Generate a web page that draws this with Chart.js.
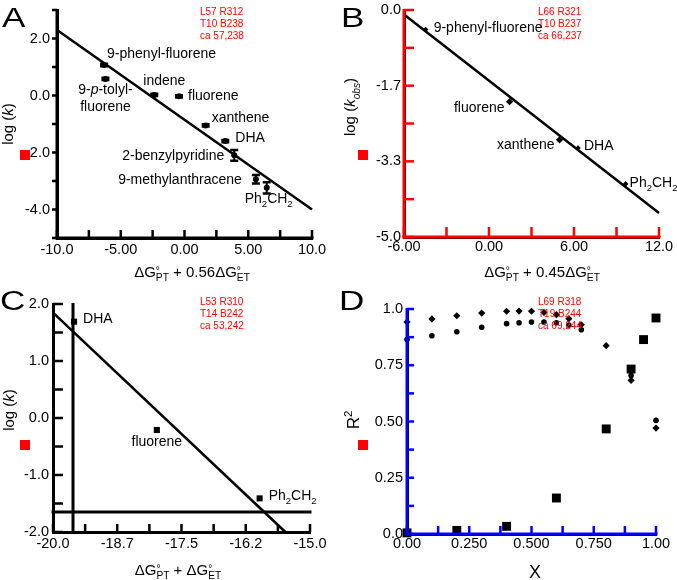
<!DOCTYPE html>
<html>
<head>
<meta charset="utf-8">
<script src="https://cdn.jsdelivr.net/npm/chart.js@4.4.0/dist/chart.umd.min.js"></script>
<style>
  body { margin: 0; background: #fff; }
  #wrap { position: relative; width: 677px; height: 580px; overflow: hidden; }
  canvas { position: absolute; }
</style>
</head>
<body>
<div id="wrap">
  <canvas id="chartA" width="338" height="290" style="left:0;top:0"></canvas>
  <canvas id="chartB" width="339" height="290" style="left:338px;top:0"></canvas>
  <canvas id="chartC" width="338" height="290" style="left:0;top:290px"></canvas>
  <canvas id="chartD" width="339" height="290" style="left:338px;top:290px"></canvas>
</div>
<script>
var FONT = "'Liberation Sans', Arial, sans-serif";

// ---- panel A data
var xA = [-6.31, -6.2, -2.37, -0.43, 1.66, 3.2, 3.9, 5.6, 6.45];
var yA = [1.07, 0.58, 0.02, -0.03, -1.05, -1.6, -2.1, -2.94, -3.24];
var errA = [0.04, 0.04, 0.04, 0.04, 0.04, 0.04, 0.19, 0.15, 0.2];
var namesA = ['9-phenyl-fluorene', '9-{/p}-tolyl-|fluorene', 'indene', 'fluorene', 'xanthene', 'DHA',
  '2-benzylpyridine', '9-methylanthracene', 'Ph{_2}CH{_2}'];
var fitXA = [-10, 10];
var fitYA = [2.3, -4.0];
var xTicksA = [-10, -7.5, -5, -2.5, 0, 2.5, 5, 7.5, 10];
var xLabelsA = ['-10.0', '', '-5.00', '', '0.00', '', '5.00', '', '10.0'];
var yTicksA = [-5, -4, -3, -2, -1, 0, 1, 2, 3];
var yLabelsA = ['', '-4.0', '', '-2.0', '', '0.0', '', '2.0', ''];

// ---- panel B data
var xB = [-4.47, 1.45, 4.98, 6.28, 9.64];
var yB = [-0.43, -2.02, -2.86, -3.04, -3.83];
var namesB = ['9-phenyl-fluorene', 'fluorene', 'xanthene', 'DHA', 'Ph{_2}CH{_2}'];
var fitXB = [-6, 12];
var fitYB = [-0.1, -4.47];
var xTicksB = [-6, -3, 0, 3, 6, 9, 12];
var xLabelsB = ['-6.00', '', '0.00', '', '6.00', '', '12.0'];
var yTicksB = [-5, -25 / 6, -10 / 3, -2.5, -5 / 3, -5 / 6, 0];
var yLabelsB = ['-5.0', '', '-3.3', '', '-1.7', '', '0.0'];

// ---- panel C data
var xC = [-19.59, -17.98, -15.98];
var yC = [1.69, -0.21, -1.41];
var namesC = ['DHA', 'fluorene', 'Ph{_2}CH{_2}'];
var fitXC = [-20, -15.48];
var fitYC = [1.85, -2.0];
var xTicksC = [-20, -19.375, -18.75, -18.125, -17.5, -16.875, -16.25, -15.625, -15];
var xLabelsC = ['-20.0', '', '-18.7', '', '-17.5', '', '-16.2', '', '-15.0'];
var yTicksC = [-2, -1.5, -1, -0.5, 0, 0.5, 1, 1.5, 2];
var yLabelsC = ['-2.0', '', '-1.0', '', '0.0', '', '1.0', '', '2.0'];

// ---- panel D data
var xD1 = [0, 0.1, 0.2, 0.3, 0.4, 0.45, 0.5, 0.55, 0.6, 0.65, 0.7, 0.8, 0.9, 1.0];
var yD1 = [0.942, 0.956, 0.970, 0.982, 0.990, 0.991, 0.990, 0.985, 0.975, 0.957, 0.930, 0.837, 0.683, 0.471];
var xD2 = [0, 0.1, 0.2, 0.3, 0.4, 0.45, 0.5, 0.55, 0.6, 0.65, 0.7, 0.9, 1.0];
var yD2 = [0.864, 0.881, 0.899, 0.919, 0.935, 0.939, 0.942, 0.942, 0.939, 0.929, 0.908, 0.704, 0.505];
var xD3 = [0, 0.2, 0.4, 0.6, 0.8, 0.9, 0.95, 1.0];
var yD3 = [0.005, 0.016, 0.034, 0.16, 0.467, 0.733, 0.864, 0.96];
var xTicksD = [0, 0.125, 0.25, 0.375, 0.5, 0.625, 0.75, 0.875, 1];
var xLabelsD = ['0.00', '', '0.250', '', '0.500', '', '0.750', '', '1.00'];
var yTicksD = [0, 0.125, 0.25, 0.375, 0.5, 0.625, 0.75, 0.875, 1];
var yLabelsD = ['0.0', '', '0.25', '', '0.50', '', '0.75', '', '1.0'];

function pts(xs, ys) {
  return xs.map(function (x, i) { return { x: x, y: ys[i] }; });
}

function richLayout(ctx, text, size) {
  var parts = [], re = /\{([_^\/~])([^}]*)\}/g, last = 0, m;
  while ((m = re.exec(text))) {
    if (m.index > last) parts.push({ k: '', t: text.slice(last, m.index) });
    parts.push({ k: m[1], t: m[2] });
    last = re.lastIndex;
  }
  if (last < text.length) parts.push({ k: '', t: text.slice(last) });
  parts.forEach(function (p) {
    var small = p.k == '_' || p.k == '^' || p.k == '~';
    p.size = small ? size * 0.68 : size;
    p.font = (p.k == '/' || p.k == '~' ? 'italic ' : '') + p.size + 'px ' + FONT;
    p.dy = (p.k == '_' || p.k == '~') ? size * 0.28 : (p.k == '^' ? -size * 0.4 : 0);
    ctx.font = p.font;
    p.w = ctx.measureText(p.t).width;
  });
  var x = 0;
  for (var i = 0; i < parts.length; i++) {
    var p = parts[i];
    p.x = x;
    if (p.k == '^' && parts[i + 1] && parts[i + 1].k == '_') {
      var q = parts[i + 1];
      q.x = x;
      p.dy = -size * 0.22;
      x += Math.max(p.w, q.w);
      i++;
    } else {
      x += p.w;
    }
  }
  return { parts: parts, w: x };
}

function drawRich(ctx, text, x, y, size, align) {
  var lines = text.split('|');
  lines.forEach(function (line, n) {
    var L = richLayout(ctx, line, size);
    var x0 = align == 'center' ? x - L.w / 2 : (align == 'right' ? x - L.w : x);
    ctx.textAlign = 'left';
    ctx.textBaseline = 'alphabetic';
    ctx.fillStyle = '#000';
    L.parts.forEach(function (p) {
      ctx.font = p.font;
      ctx.fillText(p.t, x0 + p.x, y + p.dy + n * 17);
    });
  });
}

function decor(cfg) {
  return {
    id: 'decor',
    afterDraw: function (chart) {
      var ctx = chart.ctx, sx = chart.scales.x, sy = chart.scales.y;
      var left = sx.getPixelForValue(cfg.xMin), right = sx.getPixelForValue(cfg.xMax);
      var bottom = sy.getPixelForValue(cfg.yMin), top = sy.getPixelForValue(cfg.yMax);
      ctx.save();
      ctx.fillStyle = cfg.axisColor;
      ctx.fillRect(left - 1.5 + cfg.shift, top - 1, 3, bottom - top + 2.5);
      ctx.fillRect(left - 1.5, bottom - 1.5 - cfg.shift, right - left + 3, 3);
      cfg.xTicks.forEach(function (v) {
        var px = sx.getPixelForValue(v);
        ctx.fillRect(px - 1.25, bottom - cfg.xTick, 2.5, cfg.xTick);
      });
      cfg.yTicks.forEach(function (v) {
        var py = sy.getPixelForValue(v);
        if (cfg.yTick > 0) ctx.fillRect(left, py - 1.25, cfg.yTick, 2.5);
        else ctx.fillRect(left + cfg.yTick, py - 1.25, -cfg.yTick, 2.5);
      });
      ctx.fillStyle = '#f00';
      ctx.font = '10px ' + FONT;
      ctx.fillText('L' + left + ' R' + right, 200, 15);
      ctx.fillText('T' + top + ' B' + bottom, 200, 27);
      ctx.fillText('ca ' + [chart.chartArea.left, chart.chartArea.bottom].join(','), 200, 39);
      ctx.fillRect(20, 150, 10, 10);

      if (cfg.err) {
        ctx.strokeStyle = '#000';
        cfg.xs.forEach(function (x, i) {
          var px = sx.getPixelForValue(x);
          var t = sy.getPixelForValue(cfg.ys[i] + cfg.err[i]);
          var b = sy.getPixelForValue(cfg.ys[i] - cfg.err[i]);
          ctx.lineWidth = 2;
          ctx.beginPath();
          ctx.moveTo(px, t); ctx.lineTo(px, b);
          ctx.stroke();
          ctx.lineWidth = 2.5;
          ctx.beginPath();
          ctx.moveTo(px - 4, t); ctx.lineTo(px + 4, t);
          ctx.moveTo(px - 4, b); ctx.lineTo(px + 4, b);
          ctx.stroke();
        });
      }

      if (cfg.names) {
        cfg.names.forEach(function (name, i) {
          var o = cfg.offsets[i];
          var px = sx.getPixelForValue(cfg.xs[i]) + o[0];
          var py = sy.getPixelForValue(cfg.ys[i]) + o[1];
          drawRich(ctx, name, px, py, 14, o[2]);
        });
      }

      var xt = cfg.xTitle, yt = cfg.yTitle;
      drawRich(ctx, xt.text, xt.x, xt.y, xt.size, 'center');
      ctx.save();
      ctx.translate(yt.x, yt.y);
      ctx.rotate(-Math.PI / 2);
      drawRich(ctx, yt.text, 0, yt.size * 0.36, yt.size, 'center');
      ctx.restore();

      ctx.save();
      ctx.translate(cfg.letter[1], cfg.letter[2]);
      ctx.scale(1.3, 1);
      ctx.font = '27px ' + FONT;
      ctx.textAlign = 'left';
      ctx.textBaseline = 'alphabetic';
      ctx.fillText(cfg.letter[0], 0, 0);
      ctx.restore();
      ctx.restore();
    }
  };
}

function axis(min, max, vals, labels, pad, size) {
  return {
    type: 'linear',
    min: min,
    max: max,
    afterBuildTicks: function (s) {
      s.ticks = vals.map(function (v) { return { value: v }; });
    },
    afterFit: function (s) {
      if (s.isHorizontal()) s.height = size; else s.width = size;
      s.paddingTop = 0; s.paddingBottom = 0;
      s.paddingLeft = 0; s.paddingRight = 0;
    },
    grid: { display: true, drawOnChartArea: false, drawTicks: false },
    border: { display: true, color: '#000', width: 3 },
    ticks: {
      autoSkip: false,
      maxRotation: 0,
      padding: pad,
      color: '#000',
      font: { family: FONT, size: 14.5 },
      callback: function (v, i) { return labels[i]; }
    }
  };
}

function fitLine(xs, ys) {
  return {
    data: pts(xs, ys),
    showLine: true,
    pointRadius: 0,
    borderColor: '#000',
    borderWidth: 2.5,
    clip: false
  };
}

function makeChart(id, cfg) {
  return new Chart(document.getElementById(id), {
    type: 'scatter',
    data: { datasets: cfg.datasets },
    options: {
      responsive: false,
      animation: false,
      layout: { padding: cfg.pad },
      plugins: { legend: { display: false }, tooltip: { enabled: false } },
      scales: {
        x: axis(cfg.xMin, cfg.xMax, cfg.xTicks, cfg.xLabels, cfg.xPad, cfg.xH),
        y: axis(cfg.yMin, cfg.yMax, cfg.yTicks, cfg.yLabels, cfg.yPad, 40)
      }
    },
    plugins: [decor(cfg)]
  });
}

makeChart('chartA', {
  datasets: [
    fitLine(fitXA, fitYA),
    { data: pts(xA, yA), pointStyle: 'circle', pointRadius: 3, backgroundColor: '#000', borderWidth: 0, clip: false }
  ],
  axisColor: '#000', shift: 0,
  pad: { left: 17, right: 26, top: 10, bottom: 0 },
  xMin: -10, xMax: 10, xTicks: xTicksA, xLabels: xLabelsA, xPad: 3, xH: 52,
  yMin: -5, yMax: 3, yTicks: yTicksA, yLabels: yLabelsA, yPad: 7,
  xTick: 8, yTick: -5,
  xs: xA, ys: yA, err: errA, names: namesA,
  offsets: [[3, -7, 'left'], [0, 15, 'center'], [-11, -10, 'left'], [9, 4, 'left'], [6, -3, 'left'],
    [10, 1, 'left'], [-10, 5, 'right'], [-14, 5, 'right'], [-22, 15, 'left']],
  xTitle: { text: 'ΔG{^°}{_PT} + 0.56ΔG{^°}{_ET}', x: 192, y: 277, size: 15 },
  yTitle: { text: 'log ({/k})', x: 8, y: 124, size: 15 },
  letter: ['A', 2, 27]
});

makeChart('chartB', {
  datasets: [
    fitLine(fitXB, fitYB),
    { data: pts(xB, yB), pointStyle: 'rectRot', pointRadius: [2.8, 3.6, 3.6, 2.8, 2.8], backgroundColor: '#000', borderWidth: 0, clip: false }
  ],
  axisColor: '#f00', shift: 0,
  pad: { left: 26, right: 18, top: 10, bottom: 0 },
  xMin: -6, xMax: 12, xTicks: xTicksB, xLabels: xLabelsB, xPad: 1, xH: 53,
  yMin: -5, yMax: 0, yTicks: yTicksB, yLabels: yLabelsB, yPad: 3,
  xTick: 10, yTick: 10,
  xs: xB, ys: yB, names: namesB,
  offsets: [[8, 2, 'left'], [-5, 10, 'right'], [-5, 9, 'right'], [6, 2, 'left'], [4, 3, 'left']],
  xTitle: { text: 'ΔG{^°}{_PT} + 0.45ΔG{^°}{_ET}', x: 204, y: 277, size: 15 },
  yTitle: { text: 'log ({/k}{~obs})', x: 12, y: 107, size: 15 },
  letter: ['B', 3, 27]
});

makeChart('chartC', {
  datasets: [
    fitLine(fitXC, fitYC),
    { data: pts(xC, yC), pointStyle: 'rect', pointRadius: 4.3, backgroundColor: '#000', borderWidth: 0, clip: false }
  ],
  axisColor: '#000', shift: 20,
  pad: { left: 13, right: 28, top: 14, bottom: 0 },
  xMin: -20, xMax: -15, xTicks: xTicksC, xLabels: xLabelsC, xPad: 3, xH: 48,
  yMin: -2, yMax: 2, yTicks: yTicksC, yLabels: yLabelsC, yPad: 4,
  xTick: 8, yTick: 10,
  xs: xC, ys: yC, names: namesC,
  offsets: [[9, 1, 'left'], [0, 16, 'center'], [9, 2, 'left']],
  xTitle: { text: 'ΔG{^°}{_PT} + ΔG{^°}{_ET}', x: 178, y: 285, size: 15 },
  yTitle: { text: 'log ({/k})', x: 9, y: 120, size: 15 },
  letter: ['C', 0, 20]
});

makeChart('chartD', {
  datasets: [
    { data: pts(xD1, yD1), pointStyle: 'rectRot', pointRadius: 3.6, backgroundColor: '#000', borderWidth: 0, clip: false },
    { data: pts(xD2, yD2), pointStyle: 'circle', pointRadius: 2.8, backgroundColor: '#000', borderWidth: 0, clip: false },
    { data: pts(xD3, yD3), pointStyle: 'rect', pointRadius: 6.3, backgroundColor: '#000', borderWidth: 0, clip: false }
  ],
  axisColor: '#00f', shift: 0,
  pad: { left: 29, right: 21, top: 19, bottom: 0 },
  xMin: 0, xMax: 1, xTicks: xTicksD, xLabels: xLabelsD, xPad: 1, xH: 46,
  yMin: 0, yMax: 1, yTicks: yTicksD, yLabels: yLabelsD, yPad: 4,
  xTick: 8, yTick: 7,
  xTitle: { text: 'X', x: 197, y: 288, size: 18 },
  yTitle: { text: 'R{^2}', x: 15, y: 130, size: 17 },
  letter: ['D', 1, 20]
});
</script>
</body>
</html>
